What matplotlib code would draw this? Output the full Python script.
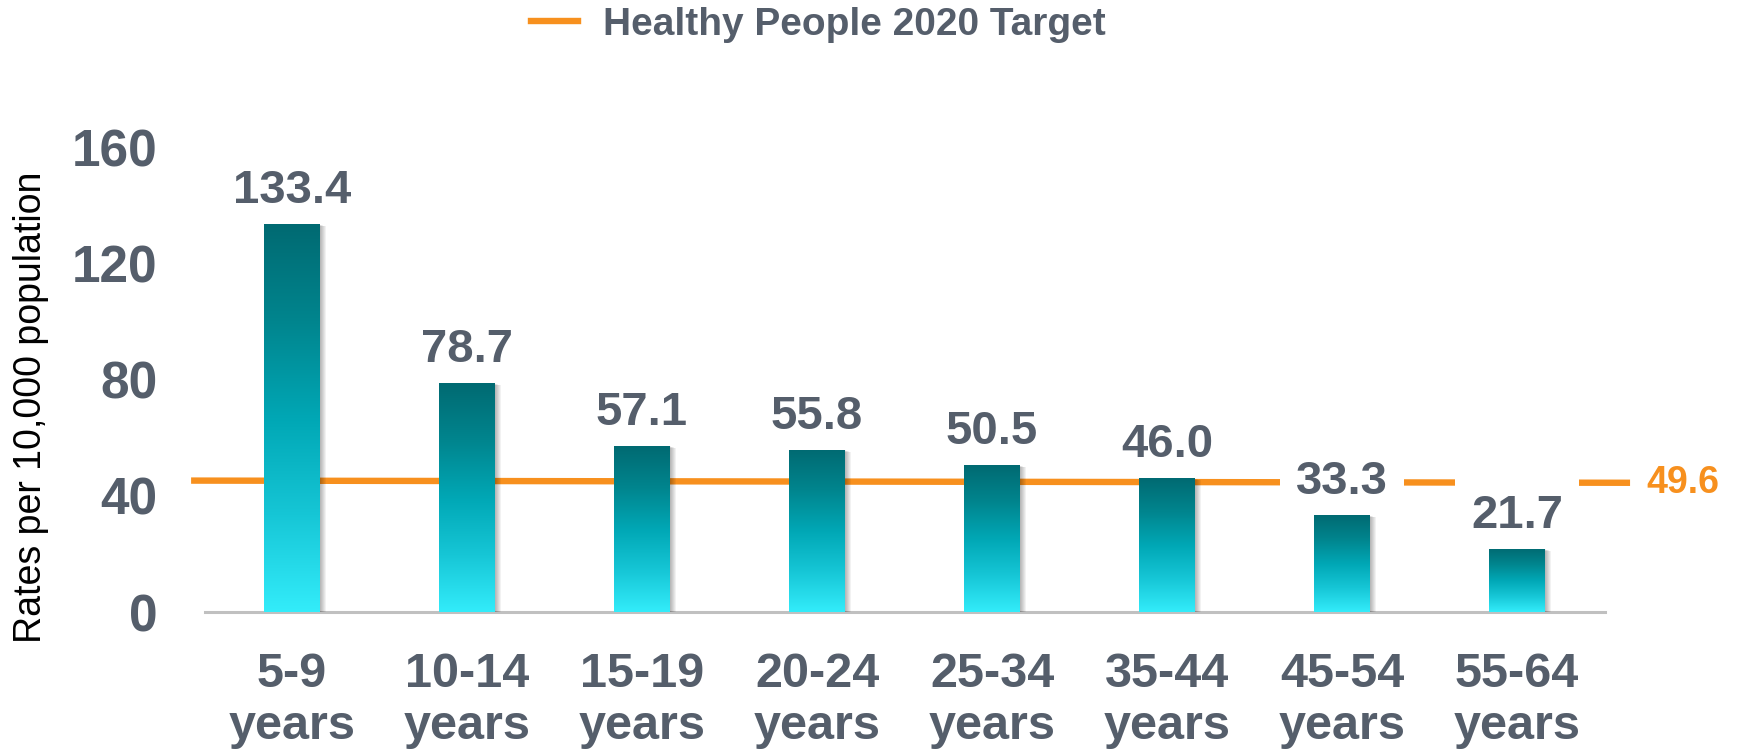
import matplotlib.pyplot as plt
import numpy as np
from matplotlib.colors import LinearSegmentedColormap
from matplotlib.lines import Line2D
from matplotlib.patches import Rectangle
from matplotlib.transforms import ScaledTranslation

age_groups = ['5-9\nyears', '10-14\nyears', '15-19\nyears', '20-24\nyears',
              '25-34\nyears', '35-44\nyears', '45-54\nyears', '55-64\nyears']
rates = [133.4, 78.7, 57.1, 55.8, 50.5, 46.0, 33.3, 21.7]
yticks = [0, 40, 80, 120, 160]

target_label = 49.6
# the orange line in the picture sits lower than its label and dips slightly
target_drawn = [45.25, 44.5]

plt.rcParams['font.family'] = ['Liberation Sans', 'DejaVu Sans']

text_gray = '#555e6b'
orange = '#f7901e'

fig = plt.figure(figsize=(17.41, 7.51), dpi=100)
ax = fig.add_axes([0.1175, 0.185, 0.8041, 0.619])

x = np.arange(len(rates))
bars = ax.bar(x, rates, width=0.32, color='none', zorder=6)

teal = LinearSegmentedColormap.from_list(
    'teal', ['#33ecfa', '#16c6d6', '#00a7b5', '#00858e', '#006a72'])
grad = np.linspace(0, 1, 256).reshape(-1, 1)

# bars sit above the label boxes so the white boxes never nibble their tops
for b in bars:
    x0, y0 = b.get_x(), b.get_y()
    w, h = b.get_width(), b.get_height()
    # soft drop shadow to the right
    for i in range(1, 7):
        off = ScaledTranslation(i / 100, -i / 300, fig.dpi_scale_trans)
        ax.add_patch(Rectangle((x0, y0), w, h, color='black', alpha=0.05,
                               lw=0, transform=ax.transData + off, zorder=5.5))
    im = ax.imshow(grad, extent=[x0, x0 + w, y0, y0 + h], origin='lower',
                   cmap=teal, aspect='auto', zorder=6)
    im.set_clip_path(b)

for xi, v in zip(x, rates):
    # labels sitting under the target line knock it out with a white box
    box = None
    if v < min(target_drawn):
        box = dict(boxstyle='square,pad=0.34', fc='white', ec='none')
    ax.annotate(f'{v:.1f}', (xi, v), xytext=(0, 8), textcoords='offset points',
                ha='center', va='bottom', fontsize=34, fontweight='bold',
                color=text_gray, zorder=5, bbox=box)

# target line runs past both ends of the axis
ax.plot([-0.577, 7.646], target_drawn, color=orange, lw=4.6,
        solid_capstyle='butt', clip_on=False, zorder=2)
ax.text(7.74, target_drawn[1], f'{target_label}', color=orange, fontsize=27,
        fontweight='bold', ha='left', va='center', clip_on=False)

ax.set_xlim(-0.5, len(rates) - 0.5)
ax.set_ylim(0, 160)
ax.set_yticks(yticks)
ax.set_xticks(x, age_groups)

ax.tick_params(axis='y', length=0, pad=34, labelsize=37, labelcolor=text_gray)
ax.tick_params(axis='x', length=0, pad=29, labelsize=35, labelcolor=text_gray)
for lbl in ax.get_xticklabels() + ax.get_yticklabels():
    lbl.set_fontweight('bold')

for s in ['top', 'right', 'left']:
    ax.spines[s].set_visible(False)
ax.spines['bottom'].set_color('#c0c0c0')
ax.spines['bottom'].set_linewidth(2.2)

fig.text(31 / 1741, 0.457, 'Rates per 10,000 population', rotation=90,
         ha='center', va='center', fontsize=27, color='black')

fig.legend(handles=[Line2D([], [], color=orange, lw=4.6)],
           labels=['Healthy People 2020 Target'], loc='center',
           bbox_to_anchor=(0.47, 0.967), frameon=False,
           prop=dict(size=28, weight='bold'), handlelength=1.2,
           handletextpad=0.65, labelcolor=text_gray)

plt.savefig('out.png', dpi=100)
